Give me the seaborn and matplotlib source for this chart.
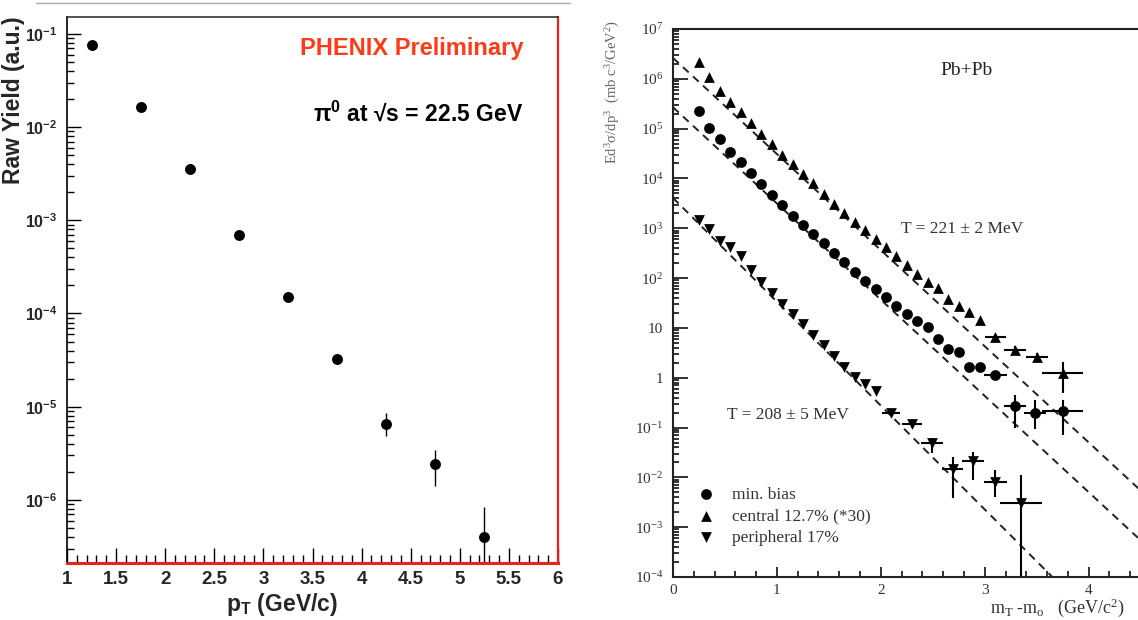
import matplotlib
matplotlib.use("Agg")
import matplotlib.pyplot as plt
import numpy as np
import pandas as pd
import seaborn as sns
from matplotlib.ticker import FixedLocator, FixedFormatter, MultipleLocator, LogLocator, NullFormatter
from matplotlib.lines import Line2D

# ---- left panel: PHENIX pi0 raw yield ----
pt = [1.25, 1.75, 2.25, 2.75, 3.25, 3.75, 4.25, 4.75, 5.25]
raw_yield = [0.076, 0.0164, 0.00356, 6.9e-4, 1.5e-4, 3.25e-5, 6.5e-6, 2.44e-6, 4.0e-7]
yield_up = [0.076, 0.0164, 0.00356, 6.9e-4, 1.5e-4, 3.25e-5, 8.5e-6, 3.4e-6, 8.3e-7]
yield_down = [0.076, 0.0164, 0.00356, 6.9e-4, 1.5e-4, 3.25e-5, 4.8e-6, 1.42e-6, 1e-8]
pt_ticks = [1, 1.5, 2, 2.5, 3, 3.5, 4, 4.5, 5, 5.5, 6]
pt_ticklabels = ["1", "1.5", "2", "2.5", "3", "3.5", "4", "4.5", "5", "5.5", "6"]
yield_ticks = [1e-6, 1e-5, 1e-4, 1e-3, 1e-2, 1e-1]
yield_ticklabels = ["10$^{-6}$", "10$^{-5}$", "10$^{-4}$", "10$^{-3}$", "10$^{-2}$", "10$^{-1}$"]

# ---- right panel: Pb+Pb mT spectra ----
mb_x = [0.25, 0.35, 0.45, 0.55, 0.65, 0.75, 0.85, 0.95, 1.05, 1.15, 1.25, 1.35, 1.45, 1.55,
        1.65, 1.75, 1.85, 1.95, 2.05, 2.15, 2.25, 2.35, 2.45, 2.55, 2.65, 2.75, 2.85, 2.95]
mb_y = [2.25e5, 1.04e5, 6.27e4, 3.44e4, 2.10e4, 1.28e4, 7.69e3, 4.70e3, 2.92e3, 1.79e3,
        1.17e3, 759, 498, 316, 207, 132, 88.1, 61.1, 42.5, 27.9, 18.7, 13.7, 10.2, 5.92,
        3.82, 3.30, 1.62, 1.62]
mb_err_x = [3.10, 3.29, 3.48, 3.75]
mb_err_y = [1.12, 0.27, 0.195, 0.21]
mb_err_lo = [1.0, 0.10, 0.093, 0.07]
mb_err_hi = [1.25, 0.45, 0.35, 0.36]
mb_err_xw = [0.11, 0.105, 0.105, 0.2]

cen_x = [0.25, 0.35, 0.45, 0.55, 0.65, 0.75, 0.85, 0.95, 1.05, 1.15, 1.25, 1.35, 1.45, 1.55,
         1.65, 1.75, 1.85, 1.95, 2.05, 2.15, 2.25, 2.35, 2.45, 2.55, 2.65, 2.75, 2.85, 2.95]
cen_y = [2.20e6, 1.10e6, 5.81e5, 3.36e5, 2.13e5, 1.30e5, 7.80e4, 4.94e4, 3.02e4, 1.99e4,
         1.21e4, 7.98e3, 4.88e3, 3.09e3, 2.03e3, 1.36e3, 944, 619, 415, 273, 183, 120,
         83.4, 63.4, 38.7, 26.9, 20.5, 14.7]
cen_err_x = [3.10, 3.29, 3.50, 3.75]
cen_err_y = [6.5, 3.6, 2.6, 1.26]
cen_err_lo = [5.6, 3.0, 2.1, 0.5]
cen_err_hi = [7.5, 4.3, 3.1, 2.04]
cen_err_xw = [0.1, 0.105, 0.105, 0.2]

per_x = [0.25, 0.35, 0.45, 0.55, 0.65, 0.75, 0.85, 0.95, 1.05, 1.15, 1.25, 1.35, 1.45, 1.55,
         1.65, 1.75, 1.85, 1.95]
per_y = [1490, 977, 566, 415, 273, 144, 84.9, 50.9, 30.5, 18.7, 11.8, 7.23, 4.58, 2.75,
         1.68, 1.04, 0.738, 0.552]
per_err_x = [2.10, 2.30, 2.49, 2.69, 2.89, 3.10, 3.35]
per_err_y = [0.195, 0.117, 0.049, 0.0145, 0.021, 0.0079, 0.003]
per_err_lo = [0.17, 0.10, 0.031, 0.0038, 0.0087, 0.004, 1e-6]
per_err_hi = [0.22, 0.13, 0.062, 0.026, 0.032, 0.0138, 0.011]
per_err_xw = [0.085, 0.1, 0.105, 0.105, 0.105, 0.11, 0.205]

fit_x = [0.0, 4.6]
fit_central = [2.63e6, 3.5e-3]
fit_minbias = [2.69e5, 3.5e-4]
fit_peripheral = [4.07e3, 1.05e-6]

mt_ticks = [0, 1, 2, 3, 4]
mt_ticklabels = ["0", "1", "2", "3", "4"]
sig_ticks = [1e-4, 1e-3, 1e-2, 1e-1, 1, 10, 1e2, 1e3, 1e4, 1e5, 1e6, 1e7]
sig_ticklabels = ["10$^{-4}$", "10$^{-3}$", "10$^{-2}$", "10$^{-1}$", "1", "10", "10$^2$",
                  "10$^3$", "10$^4$", "10$^5$", "10$^6$", "10$^7$"]

sns.set_theme(style="ticks")
plt.rcParams["mathtext.default"] = "regular"
plt.rcParams["font.family"] = ["Liberation Sans", "DejaVu Sans"]

W, H = 1138, 620
fig = plt.figure(figsize=(W / 100, H / 100), dpi=100)
fig.patch.set_facecolor("white")

# separator line at top of left panel
fig.add_artist(Line2D([36 / W, 570 / W], [1 - 3 / H, 1 - 3 / H], color="#aaaaaa", lw=1))

# ================= left =================
ax1 = fig.add_axes([67 / W, 57 / H, 491 / W, 546 / H])

ax1.errorbar(pt, raw_yield,
             yerr=[np.array(raw_yield) - np.array(yield_down), np.array(yield_up) - np.array(raw_yield)],
             fmt="none", ecolor="black", elinewidth=1.0, capsize=0, zorder=2)
sns.scatterplot(x=pt, y=raw_yield, ax=ax1, color="black", s=62, marker="o",
                linewidth=0, zorder=3, legend=False)
ax1.set_yscale("log")
ax1.set_xlim(1, 6)
ax1.set_ylim(2.1e-7, 0.152)

ax1.xaxis.set_major_locator(FixedLocator(pt_ticks))
ax1.xaxis.set_major_formatter(FixedFormatter(pt_ticklabels))
ax1.xaxis.set_minor_locator(MultipleLocator(0.1))
ax1.yaxis.set_major_locator(FixedLocator(yield_ticks))
ax1.yaxis.set_major_formatter(FixedFormatter(yield_ticklabels))
ax1.yaxis.set_minor_locator(LogLocator(base=10, subs=np.arange(2, 10), numticks=20))
ax1.yaxis.set_minor_formatter(NullFormatter())

ax1.tick_params(which="both", direction="in", color="black", width=1.0, top=False, right=False)
ax1.tick_params(axis="x", which="major", length=11, pad=6)
ax1.tick_params(axis="x", which="minor", length=5.5)
ax1.tick_params(axis="y", which="major", length=10, pad=7)
ax1.tick_params(axis="y", which="minor", length=5)
for lab in ax1.get_xticklabels():
    lab.set_fontweight("bold")
    lab.set_fontsize(13.5)
for lab in ax1.get_yticklabels():
    lab.set_fontweight("bold")
    lab.set_fontsize(11.5)

ax1.spines["left"].set_color("black")
ax1.spines["top"].set_color("#333333")
ax1.spines["right"].set_color("#e8231c")
ax1.spines["bottom"].set_color("#e8231c")
ax1.spines["left"].set_linewidth(1.2)
ax1.spines["top"].set_linewidth(1.2)
ax1.spines["right"].set_linewidth(1.6)
ax1.spines["bottom"].set_linewidth(2.2)

fig.text(14 / W, 1 - 100 / H, "Raw Yield (a.u.)", rotation=90, ha="center", va="center",
         fontsize=16.5, fontweight="bold")
fig.text(282 / W, 1 - 604 / H, "p$_T$ (GeV/c)", ha="center", va="center",
         fontsize=16.5, fontweight="bold")
fig.text(523 / W, 1 - 49 / H, "PHENIX Preliminary", ha="right", va="center",
         fontsize=17, fontweight="bold", color="#ff3b17")
fig.text(523 / W, 1 - 113 / H, "$\\pi^0$ at \u221as = 22.5 GeV", ha="right", va="center",
         fontsize=16.5, fontweight="bold", color="black")

# ================= right =================
ax2 = fig.add_axes([673 / W, 43 / H, 478 / W, 548 / H])
serif = ["Liberation Serif", "DejaVu Serif"]

for fy in (fit_central, fit_minbias, fit_peripheral):
    sns.lineplot(x=fit_x, y=fy, ax=ax2, color="#222222", lw=1.4,
                 linestyle=(0, (4, 3)), zorder=1, legend=False)

for ex, ey, lo, hi, xw in ((mb_err_x, mb_err_y, mb_err_lo, mb_err_hi, mb_err_xw),
                           (cen_err_x, cen_err_y, cen_err_lo, cen_err_hi, cen_err_xw),
                           (per_err_x, per_err_y, per_err_lo, per_err_hi, per_err_xw)):
    ey = np.array(ey)
    ax2.errorbar(ex, ey, xerr=xw, yerr=[ey - np.array(lo), np.array(hi) - ey],
                 fmt="none", ecolor="black", elinewidth=1.5, capsize=0, zorder=2)

sns.scatterplot(x=mb_x + mb_err_x, y=mb_y + mb_err_y, ax=ax2, color="black", marker="o",
                s=60, linewidth=0, zorder=3, label="min. bias")
sns.scatterplot(x=cen_x + cen_err_x, y=cen_y + cen_err_y, ax=ax2, color="black", marker="^",
                s=60, linewidth=0, zorder=3, label="central 12.7% (*30)")
sns.scatterplot(x=per_x + per_err_x, y=per_y + per_err_y, ax=ax2, color="black", marker="v",
                s=60, linewidth=0, zorder=3, label="peripheral 17%")

ax2.set_yscale("log")
ax2.set_xlim(0, 4.6)
ax2.set_ylim(1e-4, 1e7)
ax2.xaxis.set_major_locator(FixedLocator(mt_ticks))
ax2.xaxis.set_major_formatter(FixedFormatter(mt_ticklabels))
ax2.xaxis.set_minor_locator(MultipleLocator(0.2))
ax2.yaxis.set_major_locator(FixedLocator(sig_ticks))
ax2.yaxis.set_major_formatter(FixedFormatter(sig_ticklabels))
ax2.yaxis.set_minor_locator(LogLocator(base=10, subs=np.arange(2, 10), numticks=30))
ax2.yaxis.set_minor_formatter(NullFormatter())
ax2.tick_params(which="both", direction="in", color="#222222", width=1.3, top=False, right=False)
ax2.tick_params(axis="x", which="major", length=7.5, pad=5)
ax2.tick_params(axis="x", which="minor", length=4.5)
ax2.tick_params(axis="y", which="major", length=11, pad=7)
ax2.tick_params(axis="y", which="minor", length=4.5)
for lab in ax2.get_xticklabels() + ax2.get_yticklabels():
    lab.set_fontfamily(serif)
    lab.set_fontsize(11)
    lab.set_color("#333333")
for side in ("left", "top", "bottom"):
    ax2.spines[side].set_color("#222222")
    ax2.spines[side].set_linewidth(1.5)
ax2.spines["right"].set_visible(False)
ax2.set_xlabel("")
ax2.set_ylabel("")

leg = ax2.legend(loc="center left", bbox_to_anchor=(0.05, 0.111), frameon=False,
                 prop=dict(family=serif, size=12.5), handlelength=1.0, handletextpad=1.0,
                 labelspacing=0.3, borderpad=0, borderaxespad=0, markerscale=1.0)
for t in leg.get_texts():
    t.set_color("#333333")

ax2.text(2.82, 10 ** 6.16, "Pb+Pb", ha="center", va="center", family=serif, fontsize=14,
         color="#222222")
ax2.text(2.19, 10 ** 2.98, "T = 221 \u00b1 2 MeV", ha="left", va="center", family=serif,
         fontsize=12.5, color="#333333")
ax2.text(0.52, 10 ** -0.75, "T = 208 \u00b1 5 MeV", ha="left", va="center", family=serif,
         fontsize=12.5, color="#333333")

fig.text(613 / W, 1 - 92 / H, "Ed$^3\\sigma$/dp$^3$  (mb c$^3$/GeV$^2$)", rotation=90,
         ha="center", va="center", family=serif, fontsize=10.5, color="#666666")
fig.text(990 / W, 1 - 608 / H, "m$_T$ -m$_o$   (GeV/c$^2$)", ha="left", va="center",
         family=serif, fontsize=13, color="#333333")

fig.savefig("out.png", dpi=100)
